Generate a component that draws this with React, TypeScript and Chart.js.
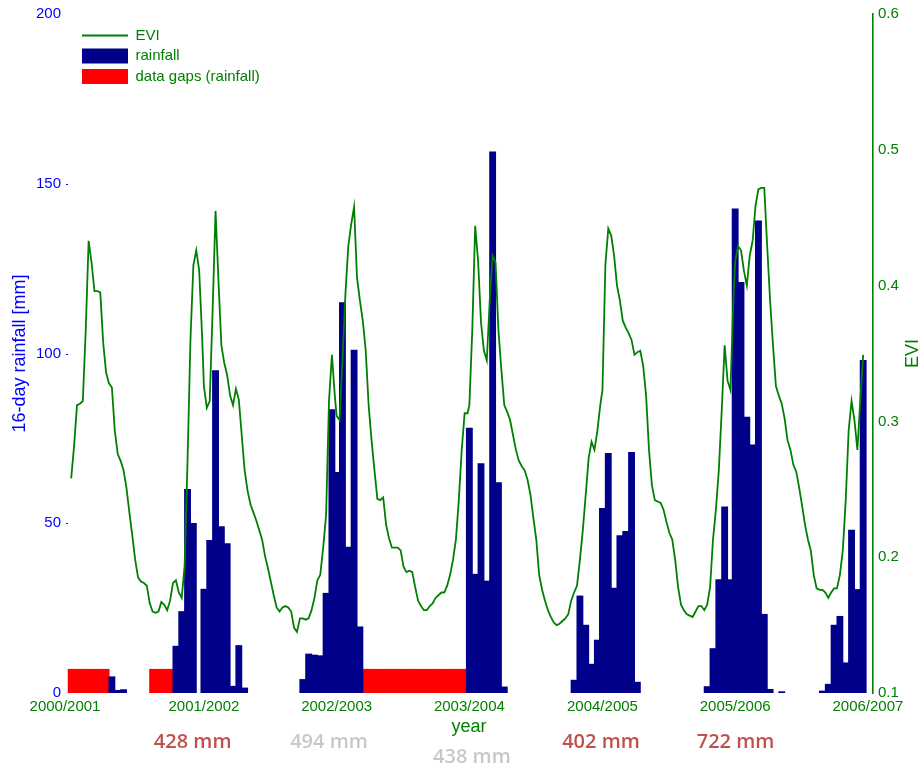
import React, { useEffect, useRef } from 'react';
import { Chart, registerables } from 'chart.js';

Chart.register(...registerables);

// ---------- data ----------
const YEARS = [2001, 2002, 2003, 2004, 2005, 2006];
// start day-of-year of the 23 sixteen-day rainfall periods
const PERIOD_DOY = [1, 17, 33, 49, 65, 81, 97, 113, 129, 145, 161, 177, 193, 209, 225, 241, 257, 273, 289, 305, 321, 337, 353];
// day-of-year of the 8-day EVI samples
const EVI_DOY = [1, 9, 17, 25, 33, 41, 49, 57, 65, 73, 81, 89, 97, 105, 113, 121, 129, 137, 145, 153, 161, 169, 177, 185, 193, 201, 209, 217, 225, 233, 241, 249, 257, 265, 273, 281, 289, 297, 305, 313, 321, 329, 337, 345, 353, 361];

// 16-day rainfall [mm]; null = data gap
const rain2001 = [null, null, null, null, null, null, null, 4.8, 0.8, 1.0, 0, 0, 0, 0, null, null, null, null, 13.8, 24, 60, 50, 0];
const rain2002 = [30.6, 45, 95, 49, 44, 2, 14, 1.5, 0, 0, 0, 0, 0, 0, 0, 0, 0, 4, 11.5, 11.2, 11, 29.4, 83.5];
const rain2003 = [65, 115, 43, 101, 19.5, null, null, null, null, null, null, null, null, null, null, null, null, null, null, null, null, null, null];
const rain2004 = [78, 35, 67.6, 33, 159.4, 62, 1.8, 0, 0, 0, 0, 0, 0, 0, 0, 0, 0, 0, 3.8, 28.6, 20, 8.5, 15.6];
const rain2005 = [54.4, 70.6, 30.9, 46.4, 47.6, 70.9, 3.2, 0, 0, 0, 0, 0, 0, 0, 0, 0, 0, 0, 1.9, 13.1, 33.4, 54.8, 33.4];
const rain2006 = [142.6, 121, 81.3, 73.1, 139.1, 23.2, 1.1, 0, 0.4, 0, 0, 0, 0, 0, 0, 0.6, 2.6, 20, 22.6, 8.9, 48, 30.5, 98];

// EVI, 8-day samples
const evi2001 = [0.258, 0.282, 0.312, 0.313, 0.315, 0.367, 0.433, 0.417, 0.396, 0.396, 0.395, 0.358, 0.336, 0.328, 0.325, 0.293, 0.276, 0.271, 0.264, 0.251, 0.233, 0.216, 0.198, 0.185, 0.182, 0.181, 0.179, 0.166, 0.160, 0.159, 0.160, 0.167, 0.165, 0.161, 0.168, 0.181, 0.183, 0.174, 0.170, 0.194, 0.271, 0.360, 0.415, 0.426, 0.411, 0.363];
const evi2002 = [0.326, 0.310, 0.315, 0.382, 0.455, 0.404, 0.356, 0.343, 0.334, 0.319, 0.312, 0.324, 0.316, 0.290, 0.264, 0.249, 0.239, 0.233, 0.227, 0.220, 0.213, 0.201, 0.192, 0.182, 0.172, 0.163, 0.160, 0.163, 0.164, 0.163, 0.160, 0.148, 0.145, 0.155, 0.155, 0.154, 0.155, 0.161, 0.170, 0.183, 0.187, 0.207, 0.231, 0.315, 0.349, 0.319];
const evi2003 = [0.304, 0.301, 0.345, 0.393, 0.429, 0.445, 0.458, 0.406, 0.389, 0.374, 0.352, 0.312, 0.286, 0.264, 0.243, 0.242, 0.244, 0.224, 0.214, 0.207, 0.207, 0.207, 0.205, 0.193, 0.189, 0.190, 0.189, 0.178, 0.168, 0.164, 0.161, 0.161, 0.164, 0.166, 0.170, 0.172, 0.174, 0.174, 0.179, 0.187, 0.198, 0.213, 0.242, 0.279, 0.306, 0.306];
const evi2004 = [0.312, 0.367, 0.444, 0.418, 0.373, 0.352, 0.345, 0.389, 0.422, 0.417, 0.367, 0.338, 0.312, 0.307, 0.301, 0.290, 0.279, 0.271, 0.267, 0.264, 0.257, 0.246, 0.229, 0.213, 0.187, 0.176, 0.168, 0.161, 0.156, 0.152, 0.150, 0.151, 0.153, 0.155, 0.158, 0.168, 0.174, 0.179, 0.198, 0.220, 0.246, 0.273, 0.285, 0.279, 0.293, 0.312];
const evi2005 = [0.323, 0.415, 0.442, 0.437, 0.422, 0.400, 0.389, 0.374, 0.369, 0.365, 0.360, 0.349, 0.351, 0.352, 0.341, 0.319, 0.279, 0.253, 0.242, 0.241, 0.240, 0.235, 0.226, 0.218, 0.213, 0.198, 0.178, 0.165, 0.161, 0.158, 0.157, 0.156, 0.160, 0.164, 0.164, 0.161, 0.165, 0.178, 0.213, 0.235, 0.264, 0.308, 0.356, 0.330, 0.323, 0.389];
const evi2006 = [0.418, 0.429, 0.426, 0.411, 0.400, 0.422, 0.433, 0.459, 0.471, 0.472, 0.472, 0.429, 0.389, 0.356, 0.326, 0.319, 0.313, 0.302, 0.286, 0.279, 0.268, 0.263, 0.251, 0.238, 0.224, 0.213, 0.205, 0.187, 0.177, 0.176, 0.176, 0.174, 0.170, 0.174, 0.177, 0.177, 0.187, 0.205, 0.242, 0.293, 0.315, 0.301, 0.279, 0.315, 0.349];

const RAIN_GAP_LEVEL = 7; // height of the "data gaps" marker bars [mm]

const X_TICK_LABELS = ['2000/2001', '2001/2002', '2002/2003', '2003/2004', '2004/2005', '2005/2006', '2006/2007'];
const SEASON_TOTALS = [428, 494, 438, 402, 722];
const SEASON_COMPLETE = [true, false, false, true, true];

// ---------- layout / style ----------
const GREEN = '#008000';
const BLUE = '#0000ff';
const NAVY = '#00008b';
const RED = '#ff0000';
const FONT = '"Liberation Sans", Arial, Helvetica, sans-serif';

const AXIS_START_DAY = -17;
const AXIS_END_DAY = 2205;
const TOTAL_LABEL_DAY = [334, 709, 1102, 1457, 1827];
const TOTAL_LABEL_ROW = [0, 0, 1, 0, 0];
const TOTAL_LABEL_BASELINE = [748, 763];

const DAY_MS = 86400000;
const dayOffset = (year: number, doy: number) =>
  Math.round((Date.UTC(year, 0, 1) - Date.UTC(2001, 0, 1)) / DAY_MS) + doy - 1;

const RAIN_BY_YEAR = [rain2001, rain2002, rain2003, rain2004, rain2005, rain2006];
const EVI_BY_YEAR = [evi2001, evi2002, evi2003, evi2004, evi2005, evi2006];

const X_TICK_DAYS = [AXIS_START_DAY, ...[2002, 2003, 2004, 2005, 2006, 2007].map((y) => dayOffset(y, 1))];

function buildSeries() {
  const rain: { x: number; y: number }[] = [];
  const gaps: { x: number; y: number }[] = [];
  const evi: { x: number; y: number }[] = [];
  YEARS.forEach((year, yi) => {
    PERIOD_DOY.forEach((doy, j) => {
      const d = dayOffset(year, doy);
      const r = RAIN_BY_YEAR[yi][j];
      if (r === null) gaps.push({ x: d, y: RAIN_GAP_LEVEL });
      else if (r > 0) rain.push({ x: d, y: r });
    });
    EVI_BY_YEAR[yi].forEach((v, k) => {
      evi.push({ x: dayOffset(year, EVI_DOY[k]), y: v });
    });
  });
  return { rain, gaps, evi };
}

const overlayPlugin = {
  id: 'overlay',
  beforeDraw(chart: any) {
    const lg = chart.legend;
    if (lg) {
      lg.left = 76.5;
      lg.top = 22.5;
    }
  },
  afterDraw(chart: any) {
    const { ctx, chartArea } = chart;
    const xs = chart.scales.x;
    const ys = chart.scales.y;
    ctx.save();
    // small inward ticks on the rainfall axis
    ctx.strokeStyle = BLUE;
    ctx.lineWidth = 1;
    ys.ticks.forEach((t: any) => {
      if (t.value === 0 || t.value === 200) return;
      const py = Math.round(ys.getPixelForValue(t.value)) + 0.5;
      ctx.beginPath();
      ctx.moveTo(chartArea.left + 1, py);
      ctx.lineTo(chartArea.left + 3, py);
      ctx.stroke();
    });
    // right axis title
    ctx.save();
    ctx.translate(913, (chartArea.top + chartArea.bottom) / 2);
    ctx.rotate(-Math.PI / 2);
    ctx.font = `18px ${FONT}`;
    ctx.fillStyle = GREEN;
    ctx.textAlign = 'center';
    ctx.textBaseline = 'middle';
    ctx.fillText('EVI', 0, 0);
    ctx.restore();
    // season totals
    ctx.font = `600 20px "Open Sans", sans-serif`;
    ctx.textAlign = 'center';
    ctx.textBaseline = 'alphabetic';
    SEASON_TOTALS.forEach((t, i) => {
      ctx.fillStyle = SEASON_COMPLETE[i] ? '#c0504d' : '#c8c8c8';
      ctx.fillText(`${t} mm`, xs.getPixelForValue(TOTAL_LABEL_DAY[i]), TOTAL_LABEL_BASELINE[TOTAL_LABEL_ROW[i]]);
    });
    ctx.restore();
  },
};

export default function App() {
  const ref = useRef<HTMLCanvasElement | null>(null);

  useEffect(() => {
    if (!ref.current) return;
    const { rain, gaps, evi } = buildSeries();
    Chart.defaults.font.family = FONT;
    const chart = new Chart(ref.current, {
      type: 'bar',
      data: {
        datasets: [
          {
            type: 'line',
            label: 'EVI',
            data: evi,
            yAxisID: 'y1',
            borderColor: GREEN,
            backgroundColor: GREEN,
            borderWidth: 1.8,
            pointRadius: 0,
            tension: 0,
            fill: false,
          } as any,
          {
            type: 'bar',
            label: 'rainfall',
            data: rain,
            yAxisID: 'y',
            backgroundColor: NAVY,
            borderWidth: 0,
            barThickness: 6.2,
            grouped: false,
          } as any,
          {
            type: 'bar',
            label: 'data gaps (rainfall)',
            data: gaps,
            yAxisID: 'y',
            backgroundColor: RED,
            borderWidth: 0,
            barThickness: 6.2,
            grouped: false,
          } as any,
        ],
      },
      options: {
        responsive: false,
        animation: false,
        events: [],
        layout: { padding: { top: 13, left: 0, right: 0, bottom: 0 } },
        plugins: {
          tooltip: { enabled: false },
          legend: {
            position: 'chartArea' as any,
            align: 'start',
            labels: {
              usePointStyle: true,
              pointStyleWidth: 46,
              boxHeight: 15,
              padding: 5.5,
              color: GREEN,
              font: { size: 15, family: FONT },
              generateLabels: () => [
                { text: 'EVI', fillStyle: GREEN, strokeStyle: GREEN, lineWidth: 2, pointStyle: 'line', fontColor: GREEN, hidden: false, datasetIndex: 0 },
                { text: 'rainfall', fillStyle: NAVY, strokeStyle: NAVY, lineWidth: 0, pointStyle: 'rect', fontColor: GREEN, hidden: false, datasetIndex: 1 },
                { text: 'data gaps (rainfall)', fillStyle: RED, strokeStyle: RED, lineWidth: 0, pointStyle: 'rect', fontColor: GREEN, hidden: false, datasetIndex: 2 },
              ] as any,
            },
          },
        },
        scales: {
          x: {
            type: 'linear',
            offset: false,
            min: AXIS_START_DAY,
            max: AXIS_END_DAY,
            grid: { display: false, drawTicks: false },
            border: { display: false },
            ticks: {
              color: GREEN,
              font: { size: 15, family: FONT },
              padding: 5,
              maxRotation: 0,
              autoSkip: false,
              callback: (_v: any, i: number) => X_TICK_LABELS[i],
            },
            afterBuildTicks: (s: any) => {
              s.ticks = X_TICK_DAYS.map((v) => ({ value: v }));
            },
            afterFit: (s: any) => {
              s.height = 75;
            },
            title: {
              display: true,
              text: 'year',
              color: GREEN,
              font: { size: 18, family: FONT },
              padding: { top: 0, bottom: 30.5 },
            },
          },
          y: {
            position: 'left',
            min: 0,
            max: 200,
            grid: { display: false, drawTicks: false },
            border: { display: false },
            ticks: { stepSize: 50, color: BLUE, font: { size: 15, family: FONT }, padding: 4 },
            title: {
              display: true,
              text: '16-day rainfall [mm]',
              color: BLUE,
              font: { size: 18, family: FONT },
              padding: { top: 9, bottom: 0 },
            },
            afterFit: (s: any) => {
              s.width = 65;
            },
          },
          y1: {
            position: 'right',
            min: 0.1,
            max: 0.6,
            grid: { display: false, drawTicks: false },
            border: { display: true, color: GREEN, width: 1.6 },
            ticks: {
              stepSize: 0.1,
              color: GREEN,
              font: { size: 15, family: FONT },
              padding: 5,
              callback: (v: any) => Number(v).toFixed(1),
            },
            afterFit: (s: any) => {
              s.width = 47;
            },
          },
        },
      } as any,
      plugins: [overlayPlugin],
    });
    return () => chart.destroy();
  }, []);

  return (
    <div style={{ position: 'absolute', left: 0, top: 0, width: 920, height: 768, background: '#fff' }}>
      <canvas ref={ref} width={920} height={768} />
    </div>
  );
}
